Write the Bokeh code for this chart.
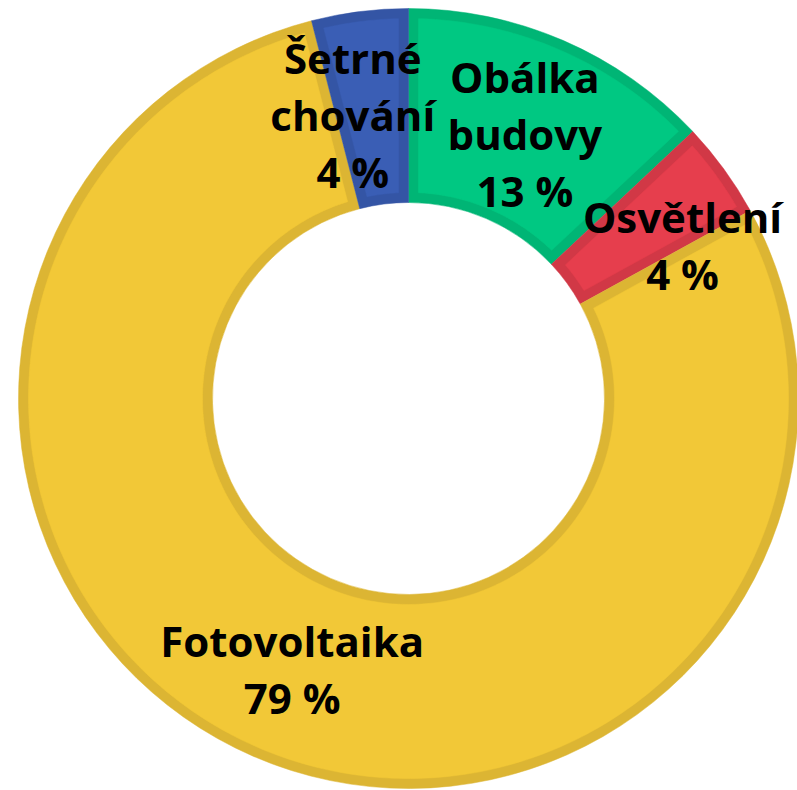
import numpy as np
from bokeh.plotting import figure
from bokeh.models import Range1d, ColumnDataSource
from bokeh.core.properties import value
from bokeh.embed import file_html
from bokeh.resources import INLINE

# ---- data ----
categories = ["Obálka budovy", "Osvětlení", "Fotovoltaika", "Šetrné chování"]
values = [13, 4, 79, 4]

# ---- style ----
fill_colors = ["#00C882", "#E63E4D", "#F2C837", "#3A5EB5"]
border_colors = ["#00B575", "#D13846", "#DCB533", "#3455A5"]
label_nudge_x = [0, 37, 0, -19]
label_nudge_y = [4, 19, 2, 7]   # screen pixels, positive = down

W, H = 797, 790
CX, CY = 408, H - 398
R_OUT, R_IN, BORDER = 390, 196, 10

vals = np.array(values, dtype=float)
frac = vals / vals.sum()
cum_end = np.cumsum(frac)
cum_start = cum_end - frac
phi1 = 2 * np.pi * cum_start   # clockwise from top
phi2 = 2 * np.pi * cum_end

p = figure(width=W, height=H, output_backend="svg", toolbar_location=None,
           x_range=Range1d(0, W), y_range=Range1d(0, H), min_border=0)
p.axis.visible = False
p.grid.visible = False
p.outline_line_color = None
p.background_fill_color = "white"
p.border_fill_color = "white"

# full sectors in border colour
src = ColumnDataSource(dict(
    x=[CX] * len(vals), y=[CY] * len(vals),
    start=list(np.pi / 2 - phi1), end=list(np.pi / 2 - phi2),
    color=border_colors))
p.annular_wedge(x="x", y="y", inner_radius=R_IN, outer_radius=R_OUT,
                start_angle="start", end_angle="end", direction="clock",
                fill_color="color", line_color="color", line_width=0.5, source=src)

# inset sectors in fill colour
xs, ys = [], []
for a, b in zip(phi1, phi2):
    ro = R_OUT - BORDER
    ri = R_IN + BORDER
    n = max(int((b - a) / (2 * np.pi) * 400), 8)
    t_out = np.linspace(a + np.arcsin(BORDER / ro), b - np.arcsin(BORDER / ro), n)
    t_in = np.linspace(b - np.arcsin(BORDER / ri), a + np.arcsin(BORDER / ri), n)
    px = np.concatenate([CX + ro * np.sin(t_out), CX + ri * np.sin(t_in)])
    py = np.concatenate([CY + ro * np.cos(t_out), CY + ri * np.cos(t_in)])
    xs.append(list(px))
    ys.append(list(py))
p.patches(xs=xs, ys=ys, fill_color=fill_colors, line_color=fill_colors, line_width=0.5)

# labels
mid = (phi1 + phi2) / 2
rm = (R_IN + R_OUT) / 2
lx = CX + rm * np.sin(mid) + np.array(label_nudge_x)
ly = CY + rm * np.cos(mid) - np.array(label_nudge_y)
labels = [c.replace(" ", "\n") + "\n" + f"{v} %" for c, v in zip(categories, values)]
p.text(x=list(lx), y=list(ly), text=labels, text_font=value("Open Sans"),
       text_font_style="bold", text_font_size="42px", text_color="#000000",
       text_align="center", text_baseline="middle", text_line_height=1.0)

open("out.html", "w").write(file_html(p, INLINE))
